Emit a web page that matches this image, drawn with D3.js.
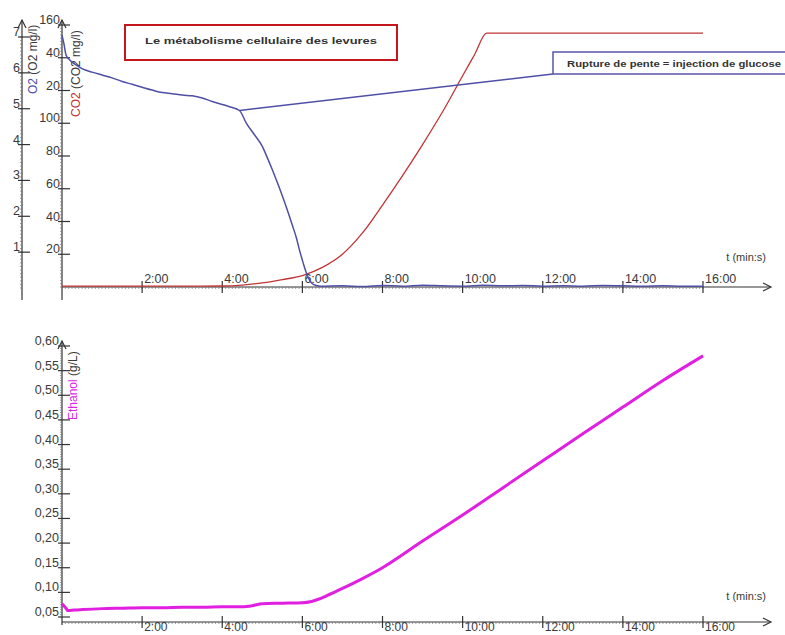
<!DOCTYPE html>
<html>
<head>
<meta charset="utf-8">
<script src="https://cdn.jsdelivr.net/npm/d3@7"></script>
<style>
  html, body { margin: 0; padding: 0; background: #fff; }
  svg { display: block; }
  text { font-family: "Liberation Sans", Arial, sans-serif; }
</style>
</head>
<body>
<svg id="chart" width="785" height="635"></svg>
<script>
// ---- data (time in minutes) ----
const timeO2 = [0, 0.05, 0.1, 0.2, 0.35, 0.5, 0.75, 1, 1.25, 1.5, 1.75, 2, 2.25, 2.5, 2.75, 3, 3.25, 3.5, 3.75, 4, 4.2, 4.43, 4.6, 4.8, 5.0, 5.1, 5.25, 5.43, 5.6, 5.75, 5.85, 5.93, 6.02, 6.1, 6.18, 6.25, 6.35, 6.45, 7, 7.5, 8, 8.5, 9, 9.5, 10, 10.5, 11, 11.5, 12, 12.5, 13, 13.5, 14, 14.5, 15, 15.5, 16];
const o2 = [7.05, 6.8, 6.5, 6.35, 6.22, 6.12, 6.02, 5.94, 5.86, 5.76, 5.68, 5.6, 5.52, 5.45, 5.42, 5.38, 5.36, 5.3, 5.2, 5.12, 5.05, 4.95, 4.6, 4.28, 3.95, 3.7, 3.3, 2.78, 2.25, 1.75, 1.4, 1.05, 0.7, 0.42, 0.22, 0.12, 0.07, 0.05, 0.06, 0.04, 0.07, 0.05, 0.08, 0.06, 0.05, 0.08, 0.06, 0.07, 0.05, 0.06, 0.05, 0.07, 0.06, 0.05, 0.06, 0.05, 0.05];

const timeCO2 = [0, 1, 2, 3, 3.5, 4, 4.5, 5, 5.5, 6, 6.5, 7, 7.5, 8, 8.5, 9, 9.5, 10, 10.3, 10.6, 11, 12, 13, 14, 15, 16];
const co2 = [0.5, 0.5, 0.5, 0.5, 0.5, 0.6, 1.2, 2.5, 4.5, 7, 12, 20, 33, 50, 68, 87, 107, 129, 142, 155, 155, 155, 155, 155, 155, 155];

const timeEth = [0, 0.08, 0.15, 0.3, 0.5, 1, 1.5, 2, 2.5, 3, 3.5, 4, 4.5, 4.75, 5, 5.5, 6, 6.2, 6.4, 6.6, 7, 7.5, 8, 9, 10, 11, 12, 13, 14, 15, 16];
const ethanol = [0.077, 0.07, 0.063, 0.064, 0.065, 0.067, 0.068, 0.069, 0.069, 0.07, 0.07, 0.071, 0.071, 0.073, 0.077, 0.078, 0.079, 0.081, 0.086, 0.093, 0.108, 0.128, 0.15, 0.204, 0.257, 0.312, 0.367, 0.422, 0.476, 0.53, 0.58];

// glucose injection point (where the O2 slope breaks)
const injectionTime = 4.43;
const injectionO2 = 4.95;

// ---- tick labels ----
const xTicks = [2, 4, 6, 8, 10, 12, 14, 16];
const xTickLabels = ["2:00", "4:00", "6:00", "8:00", "10:00", "12:00", "14:00", "16:00"];
const o2Ticks = [1, 2, 3, 4, 5, 6, 7];
const o2TickLabels = ["1", "2", "3", "4", "5", "6", "7"];
const co2Ticks = [20, 40, 60, 80, 100, 120, 140, 160];
const co2TickLabels = ["20", "40", "60", "80", "100", "20", "40", "160"];
const ethTicks = [0.05, 0.10, 0.15, 0.20, 0.25, 0.30, 0.35, 0.40, 0.45, 0.50, 0.55, 0.60];
const ethTickLabels = ["0,05", "0,10", "0,15", "0,20", "0,25", "0,30", "0,35", "0,40", "0,45", "0,50", "0,55", "0,60"];

const titleText = "Le métabolisme cellulaire des levures";
const noteText = "Rupture de pente = injection de glucose";

// ---- drawing ----
const svg = d3.select("#chart");
const AXIS = "#333";
const LABEL = "#3a3a3a";
const O2_COLOR = "#4f4fa6";
const CO2_COLOR = "#c23434";
const ETH_COLOR = "#e01fe0";
const TICK_FONT = 12.5;

const x = d3.scaleLinear().domain([0, 16]).range([62, 703]);
const yO2 = d3.scaleLinear().domain([0, 7]).range([288, 37]);
const yCO2 = d3.scaleLinear().domain([0, 160]).range([287, 25]);
const yEth = d3.scaleLinear().domain([0.05, 0.60]).range([617, 346]);

const topAxisY = 287;
const botAxisY = 622;
const o2AxisX = 22;
const co2AxisX = 62;

function arrowUp(g, ax, ay) {
  g.append("path").attr("d", `M${ax - 4},${ay + 8} L${ax},${ay} L${ax + 4},${ay + 8}`)
    .attr("fill", "none").attr("stroke", AXIS).attr("stroke-width", 1.2);
}
function arrowRight(g, ax, ay) {
  g.append("path").attr("d", `M${ax - 8},${ay - 4} L${ax},${ay} L${ax - 8},${ay + 4}`)
    .attr("fill", "none").attr("stroke", AXIS).attr("stroke-width", 1.2);
}

// horizontal time axis with crossing major ticks and fine minor ticks
function timeAxis(axisY, labelBelow) {
  const g = svg.append("g");
  g.append("line").attr("x1", co2AxisX).attr("x2", 770).attr("y1", axisY).attr("y2", axisY)
    .attr("stroke", AXIS).attr("stroke-width", 1.2);
  const minor = d3.range(0, 16.01, 1 / 12);
  g.selectAll(".mn").data(minor).join("line")
    .attr("x1", d => x(d)).attr("x2", d => x(d))
    .attr("y1", axisY).attr("y2", axisY + 2)
    .attr("stroke", "#777").attr("stroke-width", 0.7);
  g.selectAll(".mj").data(xTicks).join("line")
    .attr("x1", d => x(d)).attr("x2", d => x(d))
    .attr("y1", axisY - 6).attr("y2", axisY + 6)
    .attr("stroke", AXIS).attr("stroke-width", 1.2);
  g.selectAll(".lb").data(xTicks).join("text")
    .attr("x", d => x(d) + 2)
    .attr("y", labelBelow ? axisY + 9 : axisY - 4)
    .attr("font-size", labelBelow ? 12 : TICK_FONT).attr("fill", LABEL)
    .text((d, i) => xTickLabels[i]);
  arrowRight(g, 771, axisY);
  g.append("text").attr("x", 766).attr("y", axisY - (labelBelow ? 22 : 26))
    .attr("text-anchor", "end").attr("font-size", 11).attr("fill", LABEL)
    .text("t (min:s)");
}

// vertical axis with ticks extending mostly to the right and labels up-left
function valueAxis(axisX, top, bottom, scale, ticks, labels, minorStep, labelRight) {
  const g = svg.append("g");
  g.append("line").attr("x1", axisX).attr("x2", axisX).attr("y1", top).attr("y2", bottom)
    .attr("stroke", AXIS).attr("stroke-width", 1.2);
  const [d0, d1] = scale.domain();
  const minor = d3.range(d0, d1 + minorStep * 0.5, minorStep);
  g.selectAll(".mn").data(minor).join("line")
    .attr("x1", axisX - 2).attr("x2", axisX)
    .attr("y1", d => scale(d)).attr("y2", d => scale(d))
    .attr("stroke", "#777").attr("stroke-width", 0.7);
  g.selectAll(".mj").data(ticks).join("line")
    .attr("x1", axisX - 4).attr("x2", axisX + 8)
    .attr("y1", d => scale(d)).attr("y2", d => scale(d))
    .attr("stroke", AXIS).attr("stroke-width", 1.2);
  g.selectAll(".lb").data(ticks).join("text")
    .attr("x", labelRight).attr("y", d => scale(d) - 1)
    .attr("text-anchor", "end").attr("font-size", TICK_FONT).attr("fill", LABEL)
    .text((d, i) => labels[i]);
  arrowUp(g, axisX, top);
  return g;
}

// ---- top chart: O2 and CO2 ----
valueAxis(o2AxisX, 20, 300, yO2, o2Ticks, o2TickLabels, 0.1, o2AxisX - 2);
valueAxis(co2AxisX, 20, 300, yCO2, co2Ticks, co2TickLabels, 2, co2AxisX - 2);
timeAxis(topAxisY, false);

// rotated axis titles with coloured quantity names
function axisTitle(tx, ty, name, unit, color, size) {
  const t = svg.append("text")
    .attr("transform", `translate(${tx},${ty}) rotate(-90)`)
    .attr("font-size", size);
  t.append("tspan").attr("fill", color).text(name);
  t.append("tspan").attr("fill", LABEL).text(" " + unit);
}
axisTitle(37, 94, "O2", "(O2 mg/l)", O2_COLOR, 12);
axisTitle(80, 117, "CO2", "(CO2 mg/l)", CO2_COLOR, 12);

const lineCO2 = d3.line().x((d, i) => x(timeCO2[i])).y(d => yCO2(d)).curve(d3.curveMonotoneX);
svg.append("path").datum(co2).attr("d", lineCO2)
  .attr("fill", "none").attr("stroke", CO2_COLOR).attr("stroke-width", 1.3);

const lineO2 = d3.line().x((d, i) => x(timeO2[i])).y(d => yO2(d)).curve(d3.curveMonotoneX);
svg.append("path").datum(o2).attr("d", lineO2)
  .attr("fill", "none").attr("stroke", O2_COLOR).attr("stroke-width", 1.5);

// title box
svg.append("rect").attr("x", 125).attr("y", 25).attr("width", 272).attr("height", 35)
  .attr("fill", "#fff").attr("stroke", "#c4161c").attr("stroke-width", 2);
svg.append("text").attr("x", 261).attr("y", 44).attr("text-anchor", "middle")
  .attr("font-family", "DejaVu Sans, sans-serif").attr("font-weight", "bold")
  .attr("font-size", 9.5).attr("fill", "#333").attr("textLength", 232).attr("lengthAdjust", "spacingAndGlyphs")
  .text(titleText);

// annotation box linked to the slope break
const boxX = 553, boxY = 52, boxW = 240, boxH = 22;
svg.append("line")
  .attr("x1", x(injectionTime)).attr("y1", yO2(injectionO2))
  .attr("x2", boxX).attr("y2", boxY + boxH)
  .attr("stroke", O2_COLOR).attr("stroke-width", 1.5);
svg.append("rect").attr("x", boxX).attr("y", boxY).attr("width", boxW).attr("height", boxH)
  .attr("fill", "#fff").attr("stroke", "#5a55a8").attr("stroke-width", 1.5);
svg.append("text").attr("x", 567).attr("y", 67)
  .attr("font-family", "DejaVu Sans, sans-serif").attr("font-weight", "bold")
  .attr("font-size", 9).attr("fill", "#333").attr("textLength", 214).attr("lengthAdjust", "spacingAndGlyphs")
  .text(noteText);

// ---- bottom chart: ethanol ----
valueAxis(co2AxisX, 341, 625, yEth, ethTicks, ethTickLabels, 0.005, co2AxisX - 3);
timeAxis(botAxisY, true);
axisTitle(77, 420, "Ethanol", "(g/L)", ETH_COLOR, 12);

const lineEth = d3.line().x((d, i) => x(timeEth[i])).y(d => yEth(d)).curve(d3.curveMonotoneX);
svg.append("path").datum(ethanol).attr("d", lineEth)
  .attr("fill", "none").attr("stroke", ETH_COLOR).attr("stroke-width", 3);
</script>
</body>
</html>
